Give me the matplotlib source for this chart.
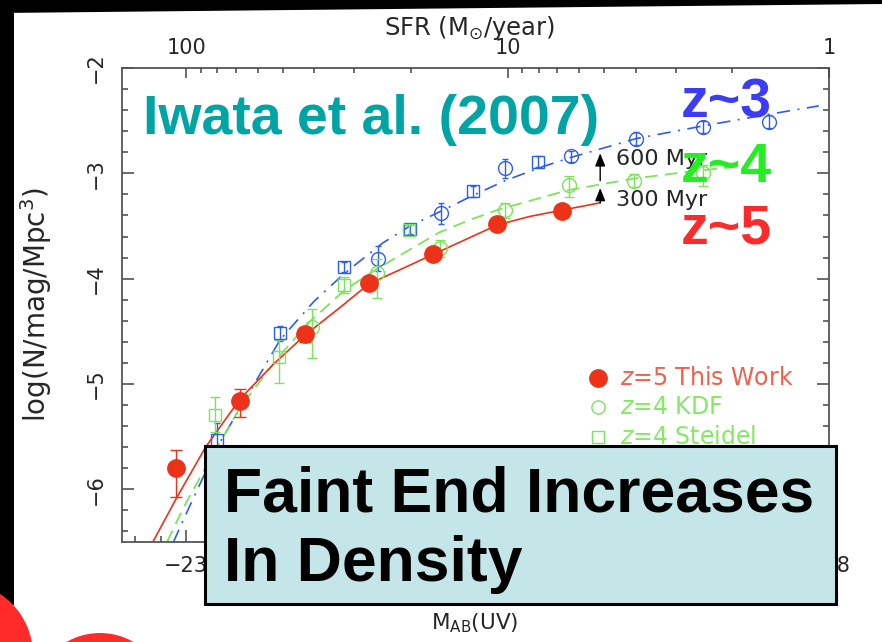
import numpy as np
import matplotlib
matplotlib.use("Agg")
import matplotlib.pyplot as plt
from matplotlib.ticker import MultipleLocator, FixedLocator, NullFormatter
from matplotlib.patches import Rectangle, Circle, Polygon

# ---- data: log number density vs UV absolute magnitude ----
# z=5, this work
m_z5 = [-23.08, -22.58, -22.08, -21.58, -21.08, -20.58, -20.08]
phi_z5 = [-5.80, -5.16, -4.53, -4.04, -3.77, -3.48, -3.36]
err_z5_hi = [0.17, 0.11, 0.07, 0.05, 0.04, 0.04, 0.04]
err_z5_lo = [0.27, 0.15, 0.07, 0.05, 0.04, 0.04, 0.04]

# z=4, KDF (open circles)
m_kdf = [-22.02, -21.52, -21.03, -20.52, -20.02, -19.52, -18.98]
phi_kdf = [-4.46, -3.95, -3.71, -3.35, -3.11, -3.07, -3.00]
err_kdf_hi = [0.17, 0.14, 0.08, 0.07, 0.08, 0.06, 0.08]
err_kdf_lo = [0.29, 0.23, 0.08, 0.07, 0.11, 0.06, 0.12]

# z=4, Steidel (open squares)
m_st4 = [-22.78, -22.28, -21.77, -21.27]
phi_st4 = [-5.29, -4.74, -4.06, -3.54]
err_st4_hi = [0.17, 0.16, 0.08, 0.05]
err_st4_lo = [0.17, 0.25, 0.08, 0.05]

# z~3 (squares and circles)
m_sq3 = [-22.76, -22.27, -21.77, -21.26, -20.77, -20.26]
phi_sq3 = [-5.53, -4.52, -3.89, -3.53, -3.17, -2.89]
err_sq3 = [0.16, 0.07, 0.05, 0.05, 0.05, 0.05]
m_ci3 = [-21.51, -21.02, -20.52, -20.01, -19.50, -18.98, -18.47]
phi_ci3 = [-3.81, -3.38, -2.95, -2.84, -2.67, -2.56, -2.51]
err_ci3 = [0.12, 0.10, 0.09, 0.05, 0.06, 0.06, 0.06]

# Schechter fits
fit_m_z5 = [-23.26, -23.07, -22.85, -22.58, -22.32, -22.08, -21.80, -21.58,
            -21.31, -21.08, -20.83, -20.58, -20.33, -20.08, -19.78]
fit_phi_z5 = [-6.50, -6.07, -5.60, -5.14, -4.81, -4.54, -4.27, -4.05,
              -3.90, -3.77, -3.63, -3.49, -3.41, -3.35, -3.28]
fit_m_z4 = [-23.15, -23.02, -22.84, -22.58, -22.28, -22.04, -21.77, -21.52,
            -21.27, -21.03, -20.79, -20.56, -20.03, -19.52, -19.13, -18.67]
fit_phi_z4 = [-6.50, -6.17, -5.77, -5.22, -4.74, -4.41, -4.11, -3.91,
              -3.73, -3.56, -3.44, -3.34, -3.16, -3.05, -2.99, -2.93]
fit_m_z3 = [-23.10, -22.97, -22.76, -22.50, -22.27, -22.01, -21.77, -21.47,
            -21.26, -21.02, -20.77, -20.52, -20.26, -20.01, -19.50, -18.98,
            -18.47, -18.08]
fit_phi_z3 = [-6.50, -6.15, -5.60, -5.06, -4.58, -4.22, -3.95, -3.66,
              -3.50, -3.36, -3.21, -3.07, -2.95, -2.85, -2.67, -2.55,
              -2.44, -2.36]

# evolution arrows: magnitude, (start, end), label height
arrow_m = -19.78
arrows = [((-3.28, -3.14), -3.25, "300 Myr"),
          ((-3.07, -2.81), -2.86, "600 Myr")]

# SFR axis on top
sfr_major = [100, 10, 1]
sfr_minor = [90, 80, 70, 60, 50, 40, 30, 20, 9, 8, 7, 6, 5, 4, 3, 2]


def sfr_to_mag(sfr):
    return -18.0 - 2.5 * np.log10(np.asarray(sfr, dtype=float))


RED = "#ec3219"
GREEN = "#7be45a"
BLUE = "#2f5cf0"
TXT = "#262626"

plt.rcParams["font.family"] = ["DejaVu Sans"]
plt.rcParams["axes.unicode_minus"] = True

W, H = 882, 642
fig = plt.figure(figsize=(W / 100, H / 100), dpi=100)
fig.patch.set_facecolor("white")

ax = fig.add_axes([122 / W, 1 - 542 / H, 707 / W, 474 / H])
ax.set_xlim(-23.5, -18.0)
ax.set_ylim(-6.5, -2.0)

# fits
ax.plot(fit_m_z3, fit_phi_z3, color=BLUE, lw=1.2, dashes=(8, 4.5, 1.2, 4.5))
ax.plot(fit_m_z4, fit_phi_z4, color=GREEN, lw=1.3, dashes=(7, 4))
ax.plot(fit_m_z5, fit_phi_z5, color=RED, lw=1.2)

# points
ax.errorbar(m_sq3, phi_sq3, yerr=err_sq3, fmt="s", ms=9, mfc="none",
            mec=BLUE, mew=1.0, ecolor=BLUE, elinewidth=1.0, capsize=2.5)
ax.errorbar(m_ci3, phi_ci3, yerr=err_ci3, fmt="o", ms=10, mfc="none",
            mec=BLUE, mew=1.0, ecolor=BLUE, elinewidth=1.0, capsize=2.5)
ax.errorbar(m_st4, phi_st4, yerr=[err_st4_lo, err_st4_hi], fmt="s", ms=9,
            mfc="none", mec=GREEN, mew=1.0, ecolor=GREEN, elinewidth=1.0,
            capsize=3.5)
ax.errorbar(m_kdf, phi_kdf, yerr=[err_kdf_lo, err_kdf_hi], fmt="o", ms=10,
            mfc="none", mec=GREEN, mew=1.0, ecolor=GREEN, elinewidth=1.0,
            capsize=3.5)
ax.errorbar(m_z5, phi_z5, yerr=[err_z5_lo, err_z5_hi], fmt="o", ms=12.5,
            color=RED, ecolor=RED, elinewidth=1.0, capsize=4, zorder=4)

# evolution arrows
for (y0, y1), ytxt, lab in arrows:
    ax.annotate("", xy=(arrow_m, y1), xytext=(arrow_m, y0),
                arrowprops=dict(arrowstyle="-|>,head_length=0.55,head_width=0.22",
                                color="black", lw=1.0, mutation_scale=14,
                                shrinkA=0, shrinkB=0))
    ax.text(arrow_m + 0.12, ytxt, lab, fontsize=16, color=TXT,
            va="center", ha="left")

# legend
leg_rows = [
    (0.346, "o", 12.5, RED, RED, r"$z$=5 This Work", "#f0604c"),
    (0.285, "o", 9.5, "none", GREEN, r"$z$=4 KDF", "#86e866"),
    (0.222, "s", 9, "none", GREEN, r"$z$=4 Steidel", "#86e866"),
]
for y, mk, ms, fc, ec, lab, tc in leg_rows:
    ax.plot([0.673], [y], marker=mk, ms=ms, mfc=fc, mec=ec, mew=1.0,
            transform=ax.transAxes, clip_on=False, ls="none")
    ax.text(0.704, y, lab, transform=ax.transAxes, fontsize=17, color=tc,
            va="center", ha="left")

# axes styling
for sp in ax.spines.values():
    sp.set_color("#555555")
    sp.set_linewidth(1.3)
ax.xaxis.set_major_locator(MultipleLocator(1))
ax.xaxis.set_minor_locator(MultipleLocator(0.2))
ax.yaxis.set_major_locator(MultipleLocator(1))
ax.yaxis.set_minor_locator(MultipleLocator(0.2))
ax.tick_params(which="both", direction="in", top=False, right=True,
               color="#444444", width=1.1, labelsize=15, labelcolor=TXT)
ax.tick_params(which="major", length=8.5)
ax.tick_params(which="minor", length=4)
ax.tick_params(axis="x", pad=10)
ax.tick_params(axis="y", pad=12, labelrotation=90)
for lab in ax.get_yticklabels():
    lab.set_va("center")

top = ax.twiny()
top.set_xlim(ax.get_xlim())
top.xaxis.set_major_locator(FixedLocator(sfr_to_mag(sfr_major)))
top.xaxis.set_minor_locator(FixedLocator(sfr_to_mag(sfr_minor)))
top.set_xticklabels([str(s) for s in sfr_major])
top.xaxis.set_minor_formatter(NullFormatter())
top.tick_params(which="both", direction="in", color="#444444", width=1.1,
                labelsize=15, labelcolor=TXT, pad=7)
top.tick_params(which="major", length=7)
top.tick_params(which="minor", length=3.5)
for sp in top.spines.values():
    sp.set_visible(False)

fig.text(470 / W, 1 - 28 / H, r"SFR ($\mathrm{M}_{\odot}$/year)", fontsize=17.5,
         color=TXT, ha="center", va="center")
fig.text(36 / W, 1 - 305 / H, r"log(N/mag/Mpc$^3$)", fontsize=20,
         color=TXT, ha="center", va="center", rotation=90)
fig.text(475 / W, 1 - 623 / H, r"M$_{\rm AB}$(UV)", fontsize=15.5,
         color=TXT, ha="center", va="center")

# slide overlays
big = dict(fontsize=40, fontweight="bold", family=["Liberation Sans"],
           va="baseline", ha="left", zorder=6)
fig.text(143 / W, 1 - 134 / H, "Iwata et al. (2007)", color="#00a4a4", **big)
fig.text(681 / W, 1 - 118 / H, "z~3", color="#3c3cf2", **big)
fig.text(681 / W, 1 - 182 / H, "z~4", color="#22ee22", **big)
fig.text(681 / W, 1 - 244 / H, "z~5", color="#fb2b2b", **big)

fig.add_artist(Rectangle((205 / W, 1 - 604 / H), 631 / W, 158 / H,
                         transform=fig.transFigure, facecolor="#c5e6e9",
                         edgecolor="black", lw=2.2, zorder=5))
box_txt = dict(fontsize=45, fontweight="bold", family=["Liberation Sans"],
               va="baseline", ha="left", color="black", zorder=6)
fig.text(224 / W, 1 - 511 / H, "Faint End Increases", **box_txt)
fig.text(224 / W, 1 - 581 / H, "In Density", **box_txt)

# black slide edge and red decorations
fig.add_artist(Polygon([(0, 1), (1, 1), (1, 1 - 4 / H), (0, 1 - 13 / H)],
                       closed=True, transform=fig.transFigure,
                       facecolor="black", edgecolor="none", zorder=7))
fig.add_artist(Rectangle((0, 1 - 605 / H), 14 / W, 605 / H,
                         transform=fig.transFigure, facecolor="black",
                         edgecolor="none", zorder=7))
fig.add_artist(Circle((-0.40, -0.13), 0.73, transform=fig.dpi_scale_trans,
                      facecolor="#ff2b2b", edgecolor="none", zorder=8))
fig.add_artist(Circle((1.00, -0.58), 0.67, transform=fig.dpi_scale_trans,
                      facecolor="#ff2b2b", edgecolor="none", zorder=8))

fig.savefig("out.png", dpi=100)
